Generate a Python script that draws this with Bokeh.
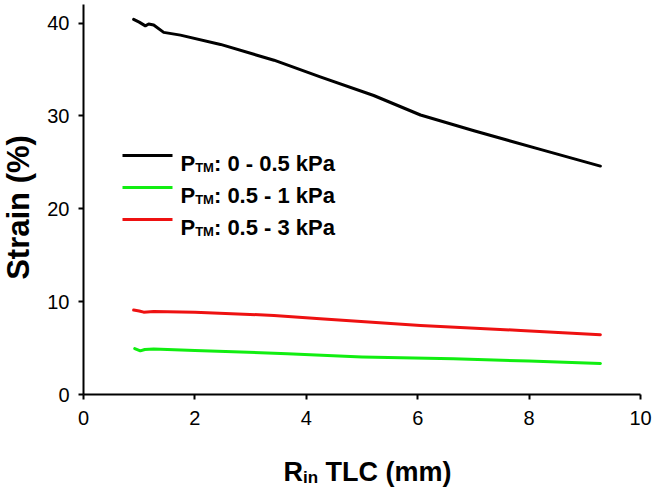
from math import pi
from bokeh.plotting import figure
from bokeh.models import Range1d, Label, BoxAnnotation, FixedTicker
from bokeh.embed import file_html
from bokeh.resources import INLINE

# ---- data ----
black_x = [0.90, 1.00, 1.11, 1.17, 1.26, 1.44, 1.74, 2.46, 3.42, 4.25, 5.21, 6.05, 7.01, 8.20, 9.28]
black_y = [40.4, 40.1, 39.7, 39.9, 39.8, 39.0, 38.7, 37.7, 36.0, 34.2, 32.2, 30.1, 28.4, 26.4, 24.6]

green_x = [0.92, 1.02, 1.10, 1.26, 2.00, 3.66, 5.00, 6.64, 8.00, 9.28]
green_y = [4.95, 4.70, 4.85, 4.89, 4.75, 4.39, 4.05, 3.84, 3.60, 3.35]

red_x = [0.90, 1.00, 1.08, 1.26, 2.00, 3.42, 4.25, 6.05, 7.85, 9.28]
red_y = [9.10, 9.00, 8.87, 8.95, 8.85, 8.52, 8.16, 7.44, 6.90, 6.43]

series_names = ["0 - 0.5 kPa", "0.5 - 1 kPa", "0.5 - 3 kPa"]
series_colors = ["#000000", "#11ee11", "#ee1111"]
x_ticks = [0, 2, 4, 6, 8, 10]
y_ticks = [0, 10, 20, 30, 40]
x_axis_bounds = (0, 10)
y_axis_bounds = (0, 42)

FONT = "Liberation Sans"

# Arial/Liberation Sans Bold advance widths (per 1000 em)
W = {' ': 278, '(': 333, ')': 333, '-': 333, '.': 278, ':': 333, '%': 889,
     'C': 722, 'L': 611, 'M': 833, 'P': 667, 'R': 722, 'T': 611, 'S': 667,
     'a': 556, 'i': 278, 'k': 556, 'm': 889, 'n': 611, 't': 333, 'r': 389}
for d in "0123456789":
    W[d] = 556


def tw(s, size):
    return sum(W.get(c, 556) for c in s) * size / 1000.0


# The frame fills the whole canvas; the axes sit at data 0 (fixed_location),
# so every text can live inside the frame.
CW, CH = 656, 488
FL, FB = 83, 394          # pixel of data (0, 0)
XS = 557 / 10.0           # px per x unit
YS = 390 / 42.0           # px per y unit

p = figure(width=CW, height=CH, output_backend="svg", toolbar_location=None,
           x_range=Range1d(-FL / XS, (CW - FL) / XS),
           y_range=Range1d(-(CH - FB) / YS, FB / YS),
           min_border=0, min_border_left=0, min_border_right=0,
           min_border_top=0, min_border_bottom=0)
p.outline_line_color = None
p.grid.visible = False
p.background_fill_color = "white"
p.border_fill_color = "white"

p.xaxis.ticker = FixedTicker(ticks=x_ticks)
p.yaxis.ticker = FixedTicker(ticks=y_ticks)
p.xaxis.fixed_location = 0
p.yaxis.fixed_location = 0
p.xaxis.bounds = x_axis_bounds
p.yaxis.bounds = y_axis_bounds
for ax in (p.xaxis, p.yaxis):
    ax.axis_line_width = 2
    ax.axis_line_color = "black"
    ax.major_tick_line_width = 2
    ax.major_tick_line_color = "black"
    ax.major_tick_out = 5
    ax.major_tick_in = 0
    ax.minor_tick_line_color = None
    ax.major_label_text_font = FONT
    ax.major_label_text_font_size = "20px"
    ax.major_label_text_color = "black"
p.xaxis.major_label_standoff = 11
p.yaxis.major_label_standoff = 9


def dx(px):
    return (px - FL) / XS


def dy(py):
    return (FB - py) / YS


def lab(px, py, text, size, **kw):
    p.add_layout(Label(x=dx(px), y=dy(py), text=text, text_font=FONT, text_font_style="bold",
                       text_color="black", text_font_size=f"{size}px", **kw))


# data lines
for xs, ys, c in [(black_x, black_y, series_colors[0]),
                  (green_x, green_y, series_colors[1]),
                  (red_x, red_y, series_colors[2])]:
    p.line(xs, ys, line_color=c, line_width=3, line_join="round", line_cap="round")

# legend
leg_rows = [155, 187, 219]
main_fs, sub_fs = 22, 13
for name, c, ry in zip(series_names, series_colors, leg_rows):
    p.add_layout(BoxAnnotation(left=dx(122), right=dx(172), top=dy(ry - 1.5), bottom=dy(ry + 1.5),
                               fill_color=c, fill_alpha=1.0, line_color=None))
    base = ry + 8
    x0 = 180
    lab(x0, base, "P", main_fs, text_align="left", text_baseline="alphabetic")
    x1 = x0 + tw("P", main_fs)
    lab(x1, base + 4, "TM", sub_fs, text_align="left", text_baseline="alphabetic")
    x2 = x1 + tw("TM", sub_fs)
    lab(x2, base, ": " + name, main_fs, text_align="left", text_baseline="alphabetic")

# x axis title: R_in TLC (mm)
t_fs, ts_fs = 27, 17
total = tw("R", t_fs) + tw("in", ts_fs) + tw(" TLC (mm)", t_fs)
xs0 = 367 - total / 2
base = 471
lab(xs0, base, "R", t_fs, text_align="left", text_baseline="alphabetic")
xs1 = xs0 + tw("R", t_fs)
lab(xs1, base + 6, "in", ts_fs, text_align="left", text_baseline="alphabetic")
xs2 = xs1 + tw("in", ts_fs) + tw(" ", t_fs)
lab(xs2, base, "TLC (mm)", t_fs, text_align="left", text_baseline="alphabetic")

# y axis title
lab(18, 207, "Strain (%)", 31, text_align="center", text_baseline="middle", angle=pi / 2)

open("out.html", "w").write(file_html(p, INLINE))
